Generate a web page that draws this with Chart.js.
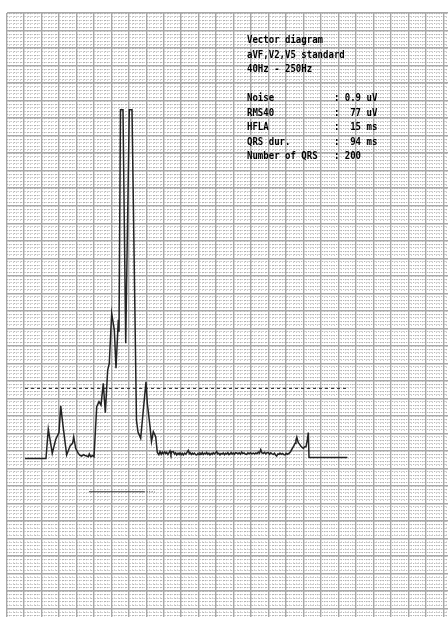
<!DOCTYPE html>
<html>
<head>
<meta charset="utf-8">
<script src="https://cdn.jsdelivr.net/npm/chart.js@4/dist/chart.umd.min.js"></script>
<style>
  body { margin: 0; background: #fff; }
  #wrap { position: relative; width: 448px; height: 617px; overflow: hidden; }
  #ecg { position: absolute; left: 0; top: 0; }
  #info {
    position: absolute; left: 247px; top: 33px; margin: 0;
    font: bold 11px/14.5px "DejaVu Sans Mono", monospace;
    color: #000; transform: scaleX(0.82); transform-origin: 0 0;
  }
</style>
</head>
<body>
<div id="wrap">
  <canvas id="ecg" width="448" height="617"></canvas>
  <pre id="info"></pre>
</div>
<script>
// Vector magnitude trace: time (ms) and amplitude (uV)
const timeMs = [
  26.5, 56.5, 59.8, 65.5, 70.4, 75.1, 77.6, 81.3, 86.1, 90.9, 94.7, 96.2, 99.0, 102.7,
  105.2, 107.6, 110.0, 112.3, 114.8, 117.1, 118.5, 120.5, 123.4, 125.2,
  129.1, 132.4, 135.2, 138.5, 141.4, 144.8, 147.1, 150.5, 154.3, 156.7, 160.0, 161.0,
  163.1, 166.7, 170.6, 175.7, 179.6, 186.0, 188.2, 192.0, 199.6, 201.5, 205.4, 207.5,
  210.1, 213.5, 215.8,
  218.0, 219.7, 221.5, 223.0, 224.4, 226.5, 228.0, 229.2, 231.0, 232.6, 234.0, 235.3,
  236.4, 238.7, 240.5, 242.0, 243.6, 245.5, 247.0, 248.3, 250.0, 251.5, 253.0, 255.0,
  256.8, 258.5, 260.2, 261.5, 262.6, 264.5, 266.0, 267.3, 269.0, 270.7, 272.2, 274.0,
  275.5, 276.9, 278.8, 280.2, 281.6, 283.5, 285.0, 286.5, 288.0, 289.7, 291.2, 293.0,
  294.5, 295.9, 297.5, 299.2, 300.8, 302.2, 303.8, 305.5, 307.0, 308.7, 310.2, 312.0,
  313.5, 315.1, 316.8, 318.3, 319.8, 321.5, 323.0, 324.5, 326.2, 327.8, 329.4, 331.2,
  333.0, 334.8, 336.5, 338.2, 340.0, 341.8, 343.7, 345.5, 347.2, 349.0, 351.0, 353.2,
  355.0, 356.8, 358.5, 360.3, 362.0, 363.8, 365.5, 367.5, 369.3, 371.0, 372.8, 374.6,
  376.4, 378.2, 380.0, 381.8, 383.5, 385.0, 386.6, 388.3, 390.0, 391.4, 393.2, 395.0,
  396.8, 398.5, 400.2, 401.8, 403.3, 405.0, 406.7, 409.0, 411.0, 412.9, 414.2, 415.4,
  416.5, 417.6, 419.3, 421.1, 423.0, 424.7, 426.5, 428.6, 430.5, 431.9, 432.9, 487.7
];
const vectorUv = [
  0, 0, 16.7, 3.0, 10.8, 14.8, 30.0, 17.2, 2.0, 7.1, 8.8, 12.3, 5.8, 2.9,
  1.8, 1.4, 2.2, 1.7, 1.4, 1.0, 2.6, 1.0, 1.7, 1.0,
  29.6, 32.4, 30.5, 42.9, 26.1, 50.5, 54.3, 82.9, 73.3, 51.5, 79.1, 72.4,
  199, 199, 65.8, 199, 199, 21.7, 15.1, 11.5, 43.8, 31.5, 18.2, 9.6,
  15.3, 12.4, 3.4,
  2.2, 3.9, 2.4, 3.6, 2.6, 3.8, 2.8, 3.5, 2.3, 3.4, 4.3, 2.4,
  3.6, 3.9, 2.5, 3.2, 2.0, 3.0, 2.3, 3.2, 2.1, 2.9, 2.0, 3.1,
  2.4, 3.6, 4.6, 2.8, 3.4, 2.3, 3.0, 2.4, 3.1, 2.2, 2.0, 2.9,
  2.2, 3.1, 2.5, 3.4, 2.3, 3.0, 2.6, 3.5, 2.4, 3.0, 2.0, 2.9,
  2.4, 3.3, 2.6, 3.2, 4.0, 2.6, 3.0, 2.0, 2.9, 2.5, 3.2, 2.2,
  3.0, 2.5, 3.3, 2.2, 2.6, 3.4, 2.5, 3.1, 2.4, 3.3, 3.1, 2.6,
  3.2, 2.4, 3.6, 2.8, 3.2, 2.5, 2.3, 3.2, 2.7, 3.3, 2.6, 3.1,
  2.5, 3.2, 2.7, 3.6, 3.0, 5.0, 3.2, 2.9, 3.5, 2.6, 3.3, 3.4,
  2.4, 3.2, 2.6, 2.3, 3.0, 2.0, 1.4, 2.6, 2.3, 3.1, 2.4, 2.9,
  2.2, 2.0, 2.9, 2.4, 2.7, 3.2, 4.0, 5.8, 7.0, 8.7, 10.5, 12.2,
  10.4, 9.0, 8.2, 7.1, 6.3, 5.8, 6.6, 6.8, 10.5, 14.8, 0.5, 0.5
];

// 40 uV threshold line and QRS / HFLA duration bar
const thresholdMs = [26.5, 487.7];
const thresholdUv = [40, 40];
const qrsBarMs = [118, 197];
const laSBarMs = [197, 212];
const durationBarUv = -19;

// Paper: 25 ms and 10 uV per big square, 5 small divisions each
const xRange = [0, 631.8];
const yRange = [-90.5, 254.3];
const xMajorStep = 25, xMinorStep = 5;
const yMajorStep = 10, yMinorStep = 2;

const headerLines = ['Vector diagram', 'aVF,V2,V5 standard', '40Hz - 250Hz'];
const statLabels = ['Noise', 'RMS40', 'HFLA', 'QRS dur.', 'Number of QRS'];
const statValues = ['0.9 uV', ' 77 uV', ' 15 ms', ' 94 ms', '200'];

// text block
document.getElementById('info').textContent = headerLines.join('\n') + '\n\n' +
  statLabels.map((l, i) => l.padEnd(16) + ': ' + statValues[i]).join('\n');

function toPoints(xs, ys) {
  return xs.map((x, i) => ({ x: x, y: Array.isArray(ys) ? ys[i] : ys }));
}

function xTicks(step) {
  return axis => {
    const t = [];
    for (let v = xRange[0]; v <= xRange[1] + 1e-6; v += step) t.push({ value: v });
    axis.ticks = t;
  };
}
function yTicks(step) {
  return axis => {
    const t = [];
    for (let v = yRange[1]; v >= yRange[0] - 1e-6; v -= step) t.push({ value: v });
    axis.ticks = t;
  };
}

const minorGrid = { color: '#b4b4b4', lineWidth: 1, drawTicks: false };
const majorGrid = { color: '#a8a8a8', lineWidth: 1.4, drawTicks: false };

const ctx = document.getElementById('ecg').getContext('2d');
new Chart(ctx, {
  type: 'line',
  data: {
    datasets: [
      {
        data: toPoints(timeMs, vectorUv),
        borderColor: '#222', borderWidth: 1.5, pointRadius: 0, tension: 0
      },
      {
        data: toPoints(thresholdMs, thresholdUv),
        borderColor: '#333', borderWidth: 1.1, borderDash: [3, 3], pointRadius: 0
      },
      {
        data: toPoints(qrsBarMs, durationBarUv),
        borderColor: '#333', borderWidth: 1.1, pointRadius: 0
      },
      {
        data: toPoints(laSBarMs, durationBarUv),
        borderColor: '#444', borderWidth: 1.1, borderDash: [1, 1.5], pointRadius: 0
      }
    ]
  },
  options: {
    responsive: false,
    animation: false,
    events: [],
    layout: { padding: { left: 6.5, top: 13, right: 0, bottom: 0 } },
    plugins: { legend: { display: false }, tooltip: { enabled: false } },
    scales: {
      xm: {
        type: 'linear', position: 'bottom', min: xRange[0], max: xRange[1], z: -1,
        ticks: { display: false }, afterBuildTicks: xTicks(xMinorStep),
        grid: minorGrid, border: { display: false, dash: [1.2, 2.3] }
      },
      ym: {
        type: 'linear', position: 'left', min: yRange[0], max: yRange[1], z: -1,
        ticks: { display: false }, afterBuildTicks: yTicks(yMinorStep),
        grid: minorGrid, border: { display: false, dash: [1.2, 2.3] }
      },
      x: {
        type: 'linear', position: 'bottom', min: xRange[0], max: xRange[1],
        ticks: { display: false }, afterBuildTicks: xTicks(xMajorStep),
        grid: majorGrid, border: { display: false }
      },
      y: {
        type: 'linear', position: 'left', min: yRange[0], max: yRange[1],
        ticks: { display: false }, afterBuildTicks: yTicks(yMajorStep),
        grid: majorGrid, border: { display: false }
      }
    }
  }
});
</script>
</body>
</html>
